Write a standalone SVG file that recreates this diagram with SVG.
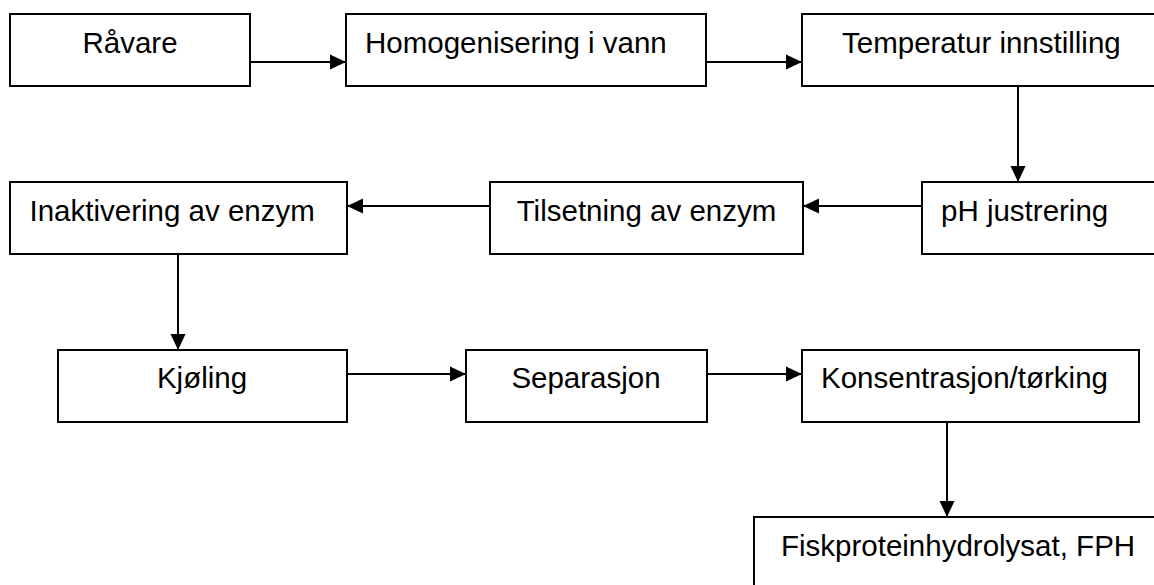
<svg xmlns="http://www.w3.org/2000/svg" width="1154" height="585" viewBox="0 0 1154 585">
<style>
.box{fill:#fff;stroke:#000;stroke-width:2}
.lbl{font-family:"Liberation Sans",Arial,sans-serif;font-size:29.5px;fill:#000}
.c{text-anchor:middle}
.con{fill:none;stroke:#000;stroke-width:2}
</style>
<defs>
<marker id="ah" markerUnits="userSpaceOnUse" markerWidth="16" markerHeight="16" refX="16" refY="8" orient="auto">
<path d="M0,0.5 L16,8 L0,15.5 Z" fill="#000"/>
</marker>
</defs>
<rect width="1154" height="585" fill="#fff"/>
<g id="connectors">
<path class="con" d="M250,62 H346" marker-end="url(#ah)"/>
<path class="con" d="M706,62 H802" marker-end="url(#ah)"/>
<path class="con" d="M1018,86 V182" marker-end="url(#ah)"/>
<path class="con" d="M922,206 H803" marker-end="url(#ah)"/>
<path class="con" d="M490,206 H347" marker-end="url(#ah)"/>
<path class="con" d="M178,254 V350" marker-end="url(#ah)"/>
<path class="con" d="M347,374 H466" marker-end="url(#ah)"/>
<path class="con" d="M707,374 H802" marker-end="url(#ah)"/>
<path class="con" d="M947,422 V517" marker-end="url(#ah)"/>
</g>
<g id="n1"><rect class="box" x="10" y="14" width="240" height="72"/><text class="lbl c" x="130" y="52.5">Råvare</text></g>
<g id="n2"><rect class="box" x="346" y="14" width="360" height="72"/><text class="lbl" x="365" y="52.5">Homogenisering i vann</text></g>
<g id="n3"><rect class="box" x="802" y="14" width="360" height="72"/><text class="lbl" x="842" y="52.5">Temperatur innstilling</text></g>
<g id="n4"><rect class="box" x="922" y="182" width="240" height="72"/><text class="lbl" x="941" y="221">pH justrering</text></g>
<g id="n5"><rect class="box" x="490" y="182" width="313" height="72"/><text class="lbl c" x="646.5" y="221">Tilsetning av enzym</text></g>
<g id="n6"><rect class="box" x="10" y="182" width="337" height="72"/><text class="lbl" x="29.5" y="221">Inaktivering av enzym</text></g>
<g id="n7"><rect class="box" x="58" y="350" width="289" height="72"/><text class="lbl c" x="202" y="388">Kjøling</text></g>
<g id="n8"><rect class="box" x="466" y="350" width="241" height="72"/><text class="lbl c" x="586" y="388">Separasjon</text></g>
<g id="n9"><rect class="box" x="802" y="350" width="337" height="72"/><text class="lbl" x="821" y="388">Konsentrasjon/tørking</text></g>
<g id="n10"><rect class="box" x="754" y="517" width="420" height="100"/><text class="lbl" x="781" y="556">Fiskproteinhydrolysat, FPH</text></g>
</svg>
